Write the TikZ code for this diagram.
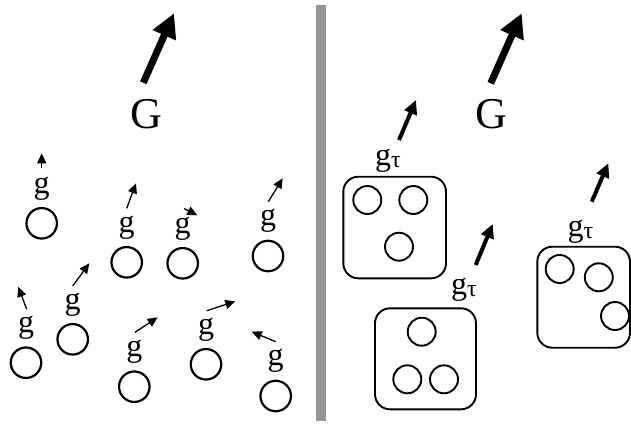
\documentclass[tikz,border=0pt]{standalone}
\usepackage{fontspec}
\setmainfont{Liberation Serif}
\usetikzlibrary{arrows.meta}
\definecolor{bargray}{RGB}{150,150,150}
\begin{document}
\begin{tikzpicture}[x=1pt,y=-1pt,
  ball/.style={circle,draw,line width=2.2pt,minimum size=30.5pt,inner sep=0pt},
  sball/.style={circle,draw,line width=1.9pt,minimum size=28pt,inner sep=0pt},
  group/.style={draw,line width=1.9pt,rounded corners=15pt},
  glabel/.style={inner sep=0pt,font=\fontsize{32}{32}\selectfont},
  Glabel/.style={inner sep=0pt,font=\fontsize{44}{44}\selectfont},
  smallarrow/.style={line width=1.3pt,-{Triangle[length=10pt,width=9pt]}},
  medarrow/.style={line width=4pt,-{Triangle[length=14pt,width=13pt]}},
  bigarrow/.style={line width=7pt,-{Triangle[length=24pt,width=24pt]}}]
\useasboundingbox (0,0) rectangle (631,423);
\fill[bargray] (316,5) rectangle (326,421);
% ---- left side ----
\node[Glabel] (GL) at (146,114) {G};
\coordinate (GLt) at (143.3,82.7); \coordinate (GLh) at (174,13.3);
\draw[bigarrow] (GLt) -- (GLh);
\foreach \n/\x/\y in {1/41.7/223.3, 2/126.7/262.3, 3/182.7/263.3, 4/268/256,
   5/72.7/339.3, 6/26/362.7, 7/134.3/386.7, 8/206/364.3, 9/275.7/396}{
  \node[ball] (b\n) at (\x,\y) {};
  \node[glabel] (g\n) at (\x,\y-35) {g};
}
\coordinate (t1) at (41.7,168.3);  \coordinate (h1) at (41.7,153.3);
\coordinate (t2) at (126.7,208.3); \coordinate (h2) at (136,183.3);
\coordinate (t3) at (184,208.5);   \coordinate (h3) at (197.3,215.3);
\coordinate (t4) at (268.3,201.7); \coordinate (h4) at (282.7,178.3);
\coordinate (t5) at (72.7,286);    \coordinate (h5) at (89.3,263.3);
\coordinate (t6) at (26.7,309.3);  \coordinate (h6) at (18.3,286.7);
\coordinate (t7) at (135,332.3);   \coordinate (h7) at (157.7,317.3);
\coordinate (t8) at (206.7,310.7); \coordinate (h8) at (235.3,301.3);
\coordinate (t9) at (275.7,341.7); \coordinate (h9) at (251.7,331.7);
\foreach \n in {1,...,9}{\draw[smallarrow] (t\n) -- (h\n);}
% ---- right side ----
\node[Glabel] (GR) at (491.7,114) {G};
\coordinate (GRt) at (490.7,83.3); \coordinate (GRh) at (521.7,13.3);
\draw[bigarrow] (GRt) -- (GRh);
% group 1
\draw[group] (343.3,176.7) rectangle (446,278.3);
\node[sball] (p1) at (367.3,200) {};
\node[sball] (p2) at (413.3,200) {};
\node[sball] (p3) at (399,246.7) {};
\node[glabel,anchor=base west] (gt1) at (375,165) {g\raisebox{-2pt}{\fontsize{24}{24}\selectfont τ}};
\coordinate (m1t) at (399,140); \coordinate (m1h) at (416,100);
\draw[medarrow] (m1t) -- (m1h);
% group 2
\draw[group] (375,308.3) rectangle (476,409.3);
\node[sball] (q1) at (421.7,331.7) {};
\node[sball] (q2) at (407.3,379.3) {};
\node[sball] (q3) at (444,379.3) {};
\node[glabel,anchor=base west] (gt2) at (451,294.5) {g\raisebox{-2pt}{\fontsize{24}{24}\selectfont τ}};
\coordinate (m2t) at (475.7,265); \coordinate (m2h) at (492.7,224);
\draw[medarrow] (m2t) -- (m2h);
% group 3
\draw[group] (537.3,246.7) rectangle (630,347.7);
\node[sball] (r1) at (559.7,269) {};
\node[sball] (r2) at (598.8,277.3) {};
\node[sball] (r3) at (615,316) {};
\node[glabel,anchor=base west] (gt3) at (567.5,236) {g\raisebox{-2pt}{\fontsize{24}{24}\selectfont τ}};
\coordinate (m3t) at (591.7,201.7); \coordinate (m3h) at (608.3,163.3);
\draw[medarrow] (m3t) -- (m3h);
\end{tikzpicture}
\end{document}
